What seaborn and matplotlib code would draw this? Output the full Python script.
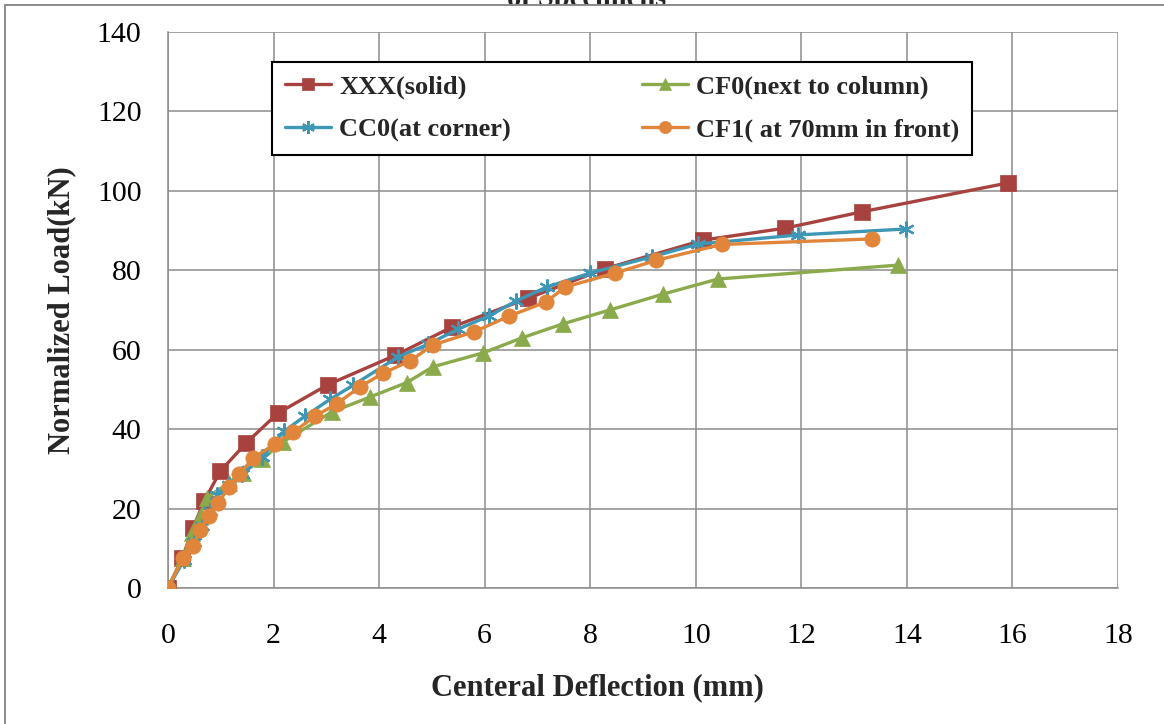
import matplotlib
matplotlib.use("Agg")
import matplotlib.pyplot as plt
from matplotlib.patches import Rectangle
from matplotlib.ticker import MultipleLocator
import seaborn as sns
import pandas as pd

# ---- data ----
xxx_x = [0, 0.27, 0.47, 0.69, 0.99, 1.48, 2.08, 3.03, 4.31, 5.38, 6.83, 8.28, 10.14, 11.69, 13.14, 15.92]
xxx_y = [0, 7.5, 15.0, 22.0, 29.4, 36.5, 44.0, 51.2, 58.6, 65.7, 73.0, 80.4, 87.6, 90.6, 94.7, 102.0]

cf0_x = [0, 0.28, 0.45, 0.60, 0.73, 1.15, 1.42, 1.78, 2.18, 3.10, 3.83, 4.52, 5.02, 5.97, 6.71, 7.48, 8.37, 9.38, 10.42, 13.83]
cf0_y = [0, 7.5, 13.8, 18.0, 22.6, 26.5, 29.0, 32.4, 36.8, 44.3, 48.1, 51.7, 55.7, 59.2, 63.0, 66.5, 70.0, 74.0, 77.8, 81.3]

cc0_x = [0, 0.30, 0.50, 0.65, 0.80, 0.93, 1.15, 1.40, 1.78, 2.20, 2.60, 3.07, 3.50, 4.36, 4.93, 5.50, 6.08, 6.60, 7.18, 8.00, 9.17, 10.04, 11.94, 13.98]
cc0_y = [0, 7.0, 11.6, 15.5, 19.5, 23.4, 26.0, 28.7, 33.0, 39.5, 43.3, 47.5, 51.0, 58.2, 61.4, 65.2, 68.5, 72.3, 75.8, 79.3, 83.4, 86.6, 88.9, 90.4]

cf1_x = [0, 0.29, 0.48, 0.61, 0.77, 0.95, 1.16, 1.35, 1.62, 2.02, 2.37, 2.79, 3.20, 3.64, 4.08, 4.59, 5.02, 5.80, 6.47, 7.16, 7.53, 8.47, 9.25, 10.49, 13.34]
cf1_y = [0, 7.6, 10.7, 14.7, 18.2, 21.4, 25.5, 28.6, 32.8, 36.2, 39.2, 43.3, 46.4, 50.7, 54.1, 57.2, 61.2, 64.5, 68.5, 72.0, 75.8, 79.3, 82.5, 86.5, 87.9]

series_names = ["XXX(solid)", "CF0(next to column)", "CC0(at corner)", "CF1( at 70mm in front)"]
series_colors = ["#A8423F", "#8AAA4B", "#3E98B5", "#E0853A"]

x_ticks = [0, 2, 4, 6, 8, 10, 12, 14, 16, 18]
y_ticks = [0, 20, 40, 60, 80, 100, 120, 140]

title_text = "of Specimens"
x_label = "Centeral Deflection (mm)"
y_label = "Normalized Load(kN)"

# ---- style ----
sns.set_style("white")
plt.rcParams["font.family"] = ["Liberation Serif", "DejaVu Serif"]

W, H = 1164, 724
fig = plt.figure(figsize=(W / 100, H / 100), dpi=100)
fig.patch.set_facecolor("white")

# clipped title behind chart area (as in the reference)
fig.text(587 / W, 1 - 6 / H, title_text, ha="center", va="baseline",
         fontsize=20.5, fontweight="bold", zorder=-5)
# chart area border
fig.patches.append(Rectangle((5 / W, -0.1), 1.2, 1 - 5 / H + 0.1, transform=fig.transFigure,
                             facecolor="white", edgecolor="#8A8A8A", linewidth=1.4, zorder=-1))

ax = fig.add_axes([168 / W, 1 - 588 / H, 950 / W, 556 / H])
ax.set_facecolor("none")

grey = "#8C8C8C"
data = [(xxx_x, xxx_y), (cf0_x, cf0_y), (cc0_x, cc0_y), (cf1_x, cf1_y)]
markers = ["s", "^", (6, 2, 0), "o"]
msizes = [11, 11, 11.5, 11]
for (xs, ys), name, col, mk, ms in zip(data, series_names, series_colors, markers, msizes):
    df = pd.DataFrame({"x": xs, "y": ys})
    sns.lineplot(data=df, x="x", y="y", ax=ax, sort=False, estimator=None,
                 color=col, linewidth=2.4, marker=mk, markersize=ms,
                 markeredgecolor=col, markerfacecolor=col,
                 markeredgewidth=1.6 if mk == (6, 2, 0) else 0.5,
                 label=name, zorder=3)

ax.set_xlim(0, 18)
ax.set_ylim(0, 140)
ax.set_xticks(x_ticks)
ax.set_yticks(y_ticks)
ax.xaxis.set_minor_locator(MultipleLocator(1))
ax.yaxis.set_minor_locator(MultipleLocator(10))
ax.grid(True, which="major", color=grey, linewidth=1.1)
ax.set_axisbelow(True)

for s in ["top", "right"]:
    ax.spines[s].set_visible(False)
for s in ["left", "bottom"]:
    ax.spines[s].set_color(grey)
    ax.spines[s].set_linewidth(1.1)

ax.tick_params(axis="x", which="major", direction="inout", length=13, width=1.1,
               color=grey, labelsize=21.5, pad=19, labelcolor="black")
ax.tick_params(axis="x", which="minor", direction="in", length=6, width=1.1, color=grey)
ax.tick_params(axis="y", which="major", direction="inout", length=12, width=1.1,
               color=grey, labelsize=21.5, pad=13, labelcolor="black")
ax.tick_params(axis="y", which="minor", direction="inout", length=12, width=1.1, color=grey)

ax.set_xlabel(x_label, fontsize=22, fontweight="bold")
ax.set_ylabel(y_label, fontsize=22, fontweight="bold")
ax.xaxis.label.set_va("center")
ax.yaxis.label.set_va("center")
ax.xaxis.set_label_coords((597 - 168) / 950, (588 - 688) / 556)
ax.yaxis.set_label_coords((62 - 168) / 950, 0.5)

handles, labels = ax.get_legend_handles_labels()
order = [0, 2, 1, 3]
leg = ax.legend([handles[i] for i in order], [labels[i] for i in order],
                ncol=2, loc="upper left", bbox_to_anchor=(272 / W, 1 - 62 / H),
                bbox_transform=fig.transFigure, borderaxespad=0,
                prop={"weight": "bold", "size": 19, "family": "Liberation Serif"},
                frameon=True, fancybox=False, framealpha=1, edgecolor="black",
                handlelength=1.75, handletextpad=0.3, columnspacing=4.95,
                labelspacing=0.72, borderpad=0.5, markerscale=0.8)
leg.get_frame().set_linewidth(1.5)

fig.savefig("out.png", dpi=100, facecolor="white")
